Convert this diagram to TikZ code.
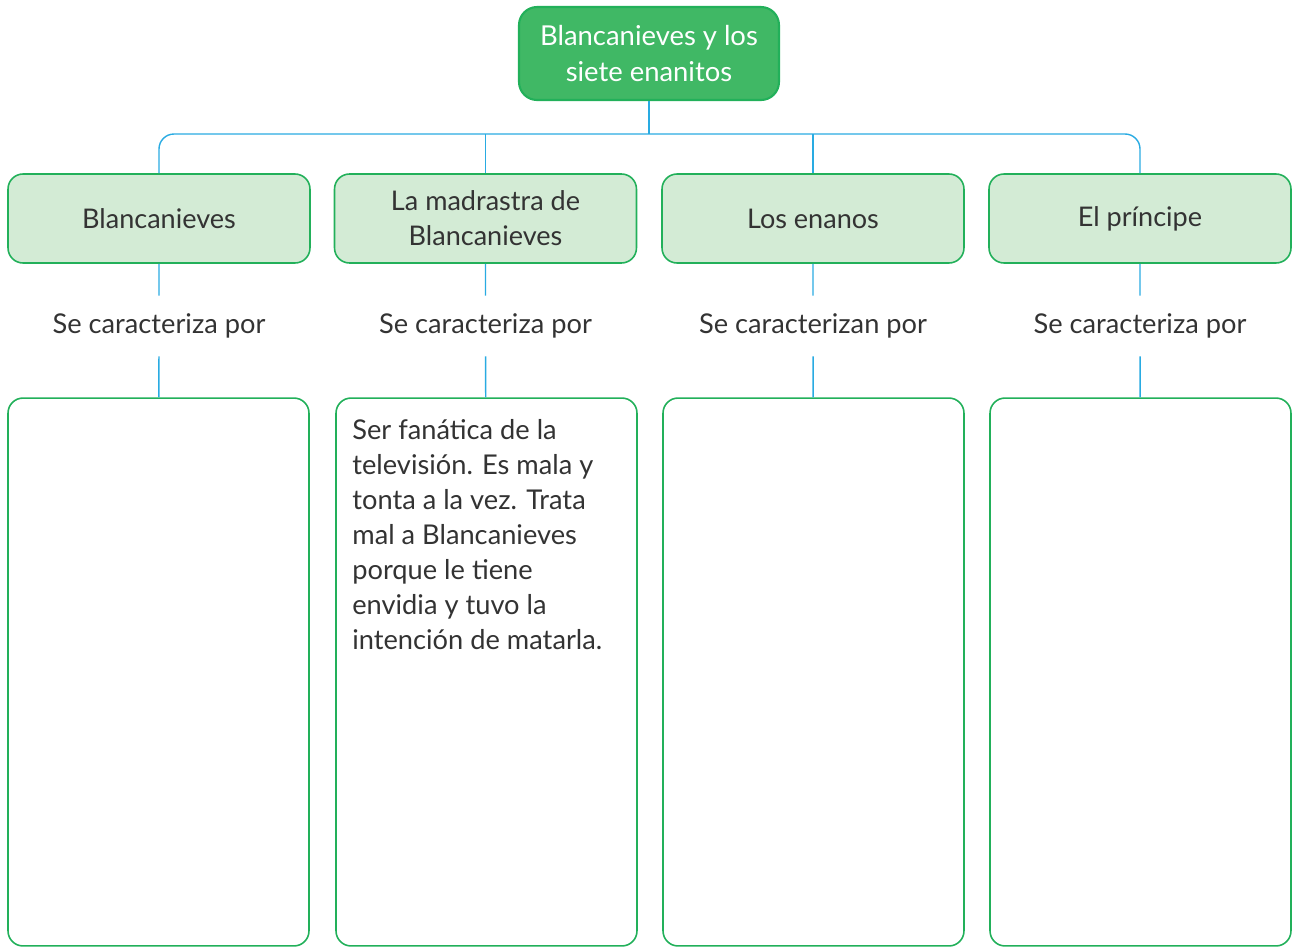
\documentclass[tikz,border=0pt]{standalone}
\usepackage{fontspec}
\setmainfont{Lato}
\usetikzlibrary{positioning}
\definecolor{mapgreen}{HTML}{22B05A}
\definecolor{titlefill}{HTML}{40B865}
\definecolor{boxfill}{HTML}{D3EBD5}
\definecolor{linkblue}{HTML}{29ABE2}
\definecolor{inkgray}{HTML}{333333}

\begin{document}
\begin{tikzpicture}[x=0.02cm,y=-0.02cm,
      title/.style={draw=mapgreen,fill=titlefill,line width=1.2pt,rounded corners=0.36cm,minimum width=5.2cm,minimum height=1.86cm,text=white,align=center,font=\fontsize{15.6}{20}\selectfont},
      who/.style={draw=mapgreen,fill=boxfill,line width=0.9pt,rounded corners=0.3cm,minimum width=6.04cm,minimum height=1.78cm,text=inkgray,align=center,font=\fontsize{15.4}{20}\selectfont},
      says/.style={minimum height=1.2cm,text=inkgray,font=\fontsize{15.5}{20}\selectfont},
      trait/.style={draw=mapgreen,fill=white,line width=0.9pt,rounded corners=0.3cm,minimum width=6.02cm,minimum height=10.96cm},
      notes/.style={text=inkgray,align=left,inner sep=0pt,font=\fontsize{15.5}{19.9}\selectfont},
      link/.style={draw=linkblue,line width=0.8pt}]

   \useasboundingbox (0,0) rectangle (1292,947);

   % Nodes
      \node[title] (root) at (649,53.5) {Blancanieves y los\\siete enanitos};
      \coordinate (bus) at (649,134);

      \node[who]   (snow)  at (159,218.5)   {Blancanieves};
      \node[who]   (queen) at (485.5,218.5) {La madrastra de\\Blancanieves};
      \node[who]   (dwarf) at (813,218.5)   {Los enanos};
      \node[who]   (pri)   at (1140,218.5)  {El príncipe};

      \node[says]  (snowS)  at (159,326)   {Se caracteriza por};
      \node[says]  (queenS) at (485.5,326) {Se caracteriza por};
      \node[says]  (dwarfS) at (813,326)   {Se caracterizan por};
      \node[says]  (priS)   at (1140,326)  {Se caracteriza por};

      \node[trait] (snowT)  at (158.5,672)  {};
      \node[trait] (queenT) at (486.5,672)  {};
      \node[trait] (dwarfT) at (813.5,672)  {};
      \node[trait] (priT)   at (1140.5,672) {};

      \node[notes,anchor=north west] (queenN) at (352,419) {Ser fanática de la\\televisión. Es mala y\\tonta a la vez. Trata\\mal a Blancanieves\\porque le tiene\\envidia y tuvo la\\intención de matarla.};

   % Paths
      \path[link] (root) -- (bus);
      \path[link,rounded corners=0.3cm] (snow.north) |- (bus) -| (pri.north);
      \path[link] (queen.north) -- (queen.north |- bus);
      \path[link] (dwarf.north) -- (dwarf.north |- bus);

      \path[link] (snow)  -- (snowS)  (snowS)  -- (snowT);
      \path[link] (queen) -- (queenS) (queenS) -- (queenT);
      \path[link] (dwarf) -- (dwarfS) (dwarfS) -- (dwarfT);
      \path[link] (pri)   -- (priS)   (priS)   -- (priT);
   \end{tikzpicture}
\end{document}
